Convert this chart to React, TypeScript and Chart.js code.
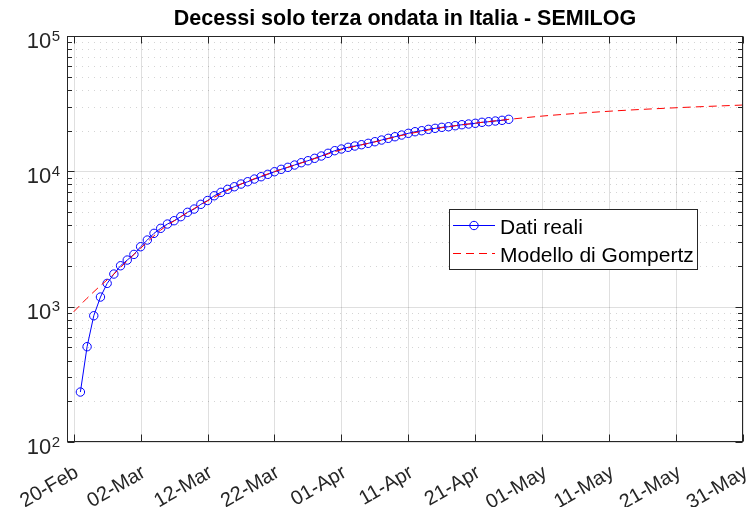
import React, { useEffect, useRef } from 'react';
import { Chart, registerables } from 'chart.js';

Chart.register(...registerables);

// ---- Data (day 0 = 20-Feb) ----
const xTickDays = [0, 10, 20, 30, 40, 50, 60, 70, 80, 90, 100];
const xTickLabels = ['20-Feb', '02-Mar', '12-Mar', '22-Mar', '01-Apr', '11-Apr', '21-Apr', '01-May', '11-May', '21-May', '31-May'];
const yTickValues = [100, 1000, 10000, 100000];
const yTickExponents = ['2', '3', '4', '5'];

const realDays = [
  1, 2, 3, 4, 5, 6, 7, 8, 9, 10, 11, 12, 13, 14, 15, 16, 17, 18, 19, 20,
  21, 22, 23, 24, 25, 26, 27, 28, 29, 30, 31, 32, 33, 34, 35, 36, 37, 38, 39, 40,
  41, 42, 43, 44, 45, 46, 47, 48, 49, 50, 51, 52, 53, 54, 55, 56, 57, 58, 59, 60,
  61, 62, 63, 64, 65,
];
const realValues = [
  234, 506, 857, 1178, 1486, 1742, 2006, 2210, 2433, 2773,
  3107, 3481, 3792, 4079, 4316, 4623, 4979, 5264, 5705, 6086,
  6601, 6996, 7362, 7693, 8055, 8377, 8771, 9123, 9502, 9931,
  10347, 10705, 11133, 11578, 11977, 12478, 12977, 13590, 14207, 14622,
  15052, 15382, 15726, 16103, 16550, 17033, 17534, 18016, 18546, 19092,
  19617, 19955, 20433, 20784, 21142, 21357, 21730, 22100, 22370, 22640,
  23030, 23260, 23540, 23820, 24230,
];

const modelDays = [0, 2, 4, 6, 8, 10, 13, 16, 20, 25, 30, 35, 40, 45, 50, 55, 60, 65, 70, 80, 90, 100];
const modelValues = [916, 1155, 1430, 1740, 2180, 2700, 3680, 4620, 6050, 8050, 9950, 11950, 14450, 16500, 18900, 21000, 22700, 24200, 25600, 27800, 29500, 30900];

const titleText = 'Decessi solo terza ondata in Italia - SEMILOG';
const legendLabels = ['Dati reali', 'Modello di Gompertz'];

// ---- Styles ----
const FONT = '"Liberation Sans", Arial, Helvetica, sans-serif';
const AX = '#262626';
const BLUE = '#0000ff';
const RED = '#ff0000';

const matlabPlugin = {
  id: 'matlabLook',
  beforeDatasetsDraw(chart: any) {
    const { ctx, chartArea: a, scales } = chart;
    const x = scales.x, y = scales.y;
    ctx.save();
    ctx.lineWidth = 1;
    // minor y grid (dotted)
    ctx.strokeStyle = 'rgba(38,38,38,0.2)';
    ctx.setLineDash([1, 5]);
    for (let k = 0; k < yTickValues.length - 1; k++) {
      for (let m = 2; m <= 9; m++) {
        const py = Math.round(y.getPixelForValue(m * yTickValues[k])) + 0.5;
        ctx.beginPath(); ctx.moveTo(a.left + 3, py); ctx.lineTo(a.right, py); ctx.stroke();
      }
    }
    ctx.setLineDash([]);
    // major grid
    ctx.strokeStyle = 'rgba(38,38,38,0.15)';
    for (const d of xTickDays) {
      const px = Math.round(x.getPixelForValue(d)) + 0.5;
      ctx.beginPath(); ctx.moveTo(px, a.top); ctx.lineTo(px, a.bottom); ctx.stroke();
    }
    for (const v of yTickValues) {
      const py = Math.round(y.getPixelForValue(v)) + 0.5;
      ctx.beginPath(); ctx.moveTo(a.left, py); ctx.lineTo(a.right, py); ctx.stroke();
    }
    ctx.restore();
  },
  afterDatasetsDraw(chart: any) {
    const { ctx, chartArea: a, scales } = chart;
    const x = scales.x, y = scales.y;
    ctx.save();
    ctx.strokeStyle = AX;
    ctx.fillStyle = AX;
    ctx.lineWidth = 1;
    const L = Math.round(a.left) + 0.5, R = Math.round(a.right) - 0.5;
    const T = Math.round(a.top) + 0.5, B = Math.round(a.bottom) - 0.5;
    // box
    ctx.strokeRect(L, T, R - L, B - T);
    // x ticks (bottom & top, inward)
    const majLen = 7, minLen = 4.5;
    for (const d of xTickDays) {
      const px = Math.round(x.getPixelForValue(d)) + 0.5;
      ctx.beginPath(); ctx.moveTo(px, B); ctx.lineTo(px, B - majLen); ctx.stroke();
      ctx.beginPath(); ctx.moveTo(px, T); ctx.lineTo(px, T + majLen); ctx.stroke();
    }
    // y ticks (left & right, inward)
    for (let k = 0; k < yTickValues.length; k++) {
      const py = Math.round(y.getPixelForValue(yTickValues[k])) + 0.5;
      ctx.beginPath(); ctx.moveTo(L, py); ctx.lineTo(L + majLen, py); ctx.stroke();
      ctx.beginPath(); ctx.moveTo(R, py); ctx.lineTo(R - majLen, py); ctx.stroke();
      if (k < yTickValues.length - 1) {
        for (let m = 2; m <= 9; m++) {
          const pm = Math.round(y.getPixelForValue(m * yTickValues[k])) + 0.5;
          ctx.beginPath(); ctx.moveTo(L, pm); ctx.lineTo(L + minLen, pm); ctx.stroke();
          ctx.beginPath(); ctx.moveTo(R, pm); ctx.lineTo(R - minLen, pm); ctx.stroke();
        }
      }
    }
    // y tick labels: 10^n
    ctx.textBaseline = 'alphabetic';
    for (let k = 0; k < yTickValues.length; k++) {
      const py = y.getPixelForValue(yTickValues[k]);
      const right = a.left - 7;
      ctx.font = `15px ${FONT}`;
      const ew = ctx.measureText(yTickExponents[k]).width;
      ctx.textAlign = 'left';
      ctx.fillText(yTickExponents[k], right - ew, py + 4.5);
      ctx.font = `22px ${FONT}`;
      ctx.textAlign = 'right';
      ctx.fillText('10', right - ew - 0.5, py + 12);
    }
    // x tick labels, rotated
    ctx.font = `20px ${FONT}`;
    ctx.textAlign = 'right';
    ctx.textBaseline = 'alphabetic';
    const ang = -30 * Math.PI / 180;
    for (let i = 0; i < xTickDays.length; i++) {
      const px = x.getPixelForValue(xTickDays[i]);
      ctx.save();
      ctx.translate(px + 6, a.bottom + 34);
      ctx.rotate(ang);
      ctx.fillText(xTickLabels[i], 0, 0);
      ctx.restore();
    }
    // title
    ctx.font = `bold 21.5px ${FONT}`;
    ctx.textAlign = 'center';
    ctx.fillStyle = '#000';
    ctx.fillText(titleText, (a.left + a.right) / 2, 25);

    // legend
    const lx = 449, ly = 209, lw = 248, lh = 60;
    ctx.fillStyle = '#fff';
    ctx.fillRect(lx, ly, lw, lh);
    ctx.strokeStyle = AX;
    ctx.strokeRect(lx + 0.5, ly + 0.5, lw, lh);
    // row 1
    ctx.strokeStyle = BLUE;
    ctx.beginPath(); ctx.moveTo(453, 225.5); ctx.lineTo(495, 225.5); ctx.stroke();
    ctx.beginPath(); ctx.arc(474, 225.5, 4.2, 0, Math.PI * 2); ctx.stroke();
    // row 2
    ctx.strokeStyle = RED;
    ctx.setLineDash([8, 5]);
    ctx.beginPath(); ctx.moveTo(453, 253.5); ctx.lineTo(495, 253.5); ctx.stroke();
    ctx.setLineDash([]);
    ctx.fillStyle = '#000';
    ctx.font = `21px ${FONT}`;
    ctx.textAlign = 'left';
    ctx.fillText(legendLabels[0], 500, 233.5);
    ctx.fillText(legendLabels[1], 500, 261.5);
    ctx.restore();
  },
};

export default function App() {
  const ref = useRef<HTMLCanvasElement>(null);
  useEffect(() => {
    const canvas = ref.current!;
    const chart = new Chart(canvas, {
      type: 'line',
      data: {
        datasets: [
          {
            label: legendLabels[0],
            data: realDays.map((d, i) => ({ x: d, y: realValues[i] })),
            borderColor: BLUE,
            borderWidth: 1,
            pointRadius: 4.2,
            pointBorderWidth: 1,
            pointBorderColor: BLUE,
            pointBackgroundColor: 'rgba(0,0,0,0)',
            pointStyle: 'circle',
            fill: false,
            order: 1,
          },
          {
            label: legendLabels[1],
            data: modelDays.map((d, i) => ({ x: d, y: modelValues[i] })),
            borderColor: RED,
            borderWidth: 1,
            borderDash: [8, 5],
            pointRadius: 0,
            cubicInterpolationMode: 'monotone',
            fill: false,
            order: 0,
          },
        ],
      },
      options: {
        responsive: false,
        animation: false,
        devicePixelRatio: 1,
        layout: { padding: { left: 67, right: 12, top: 36, bottom: 65 } },
        scales: {
          x: { type: 'linear', min: -1, max: 100, display: false },
          y: { type: 'logarithmic', min: 100, max: 100000, display: false },
        },
        plugins: {
          legend: { display: false },
          title: { display: false },
          tooltip: { enabled: false },
        },
        events: [],
      },
      plugins: [matlabPlugin],
    } as any);
    return () => chart.destroy();
  }, []);
  return (
    <div style={{ position: 'fixed', left: 0, top: 0, width: 755, height: 507, background: '#fff' }}>
      <canvas ref={ref} width={755} height={507} style={{ display: 'block' }} />
    </div>
  );
}
